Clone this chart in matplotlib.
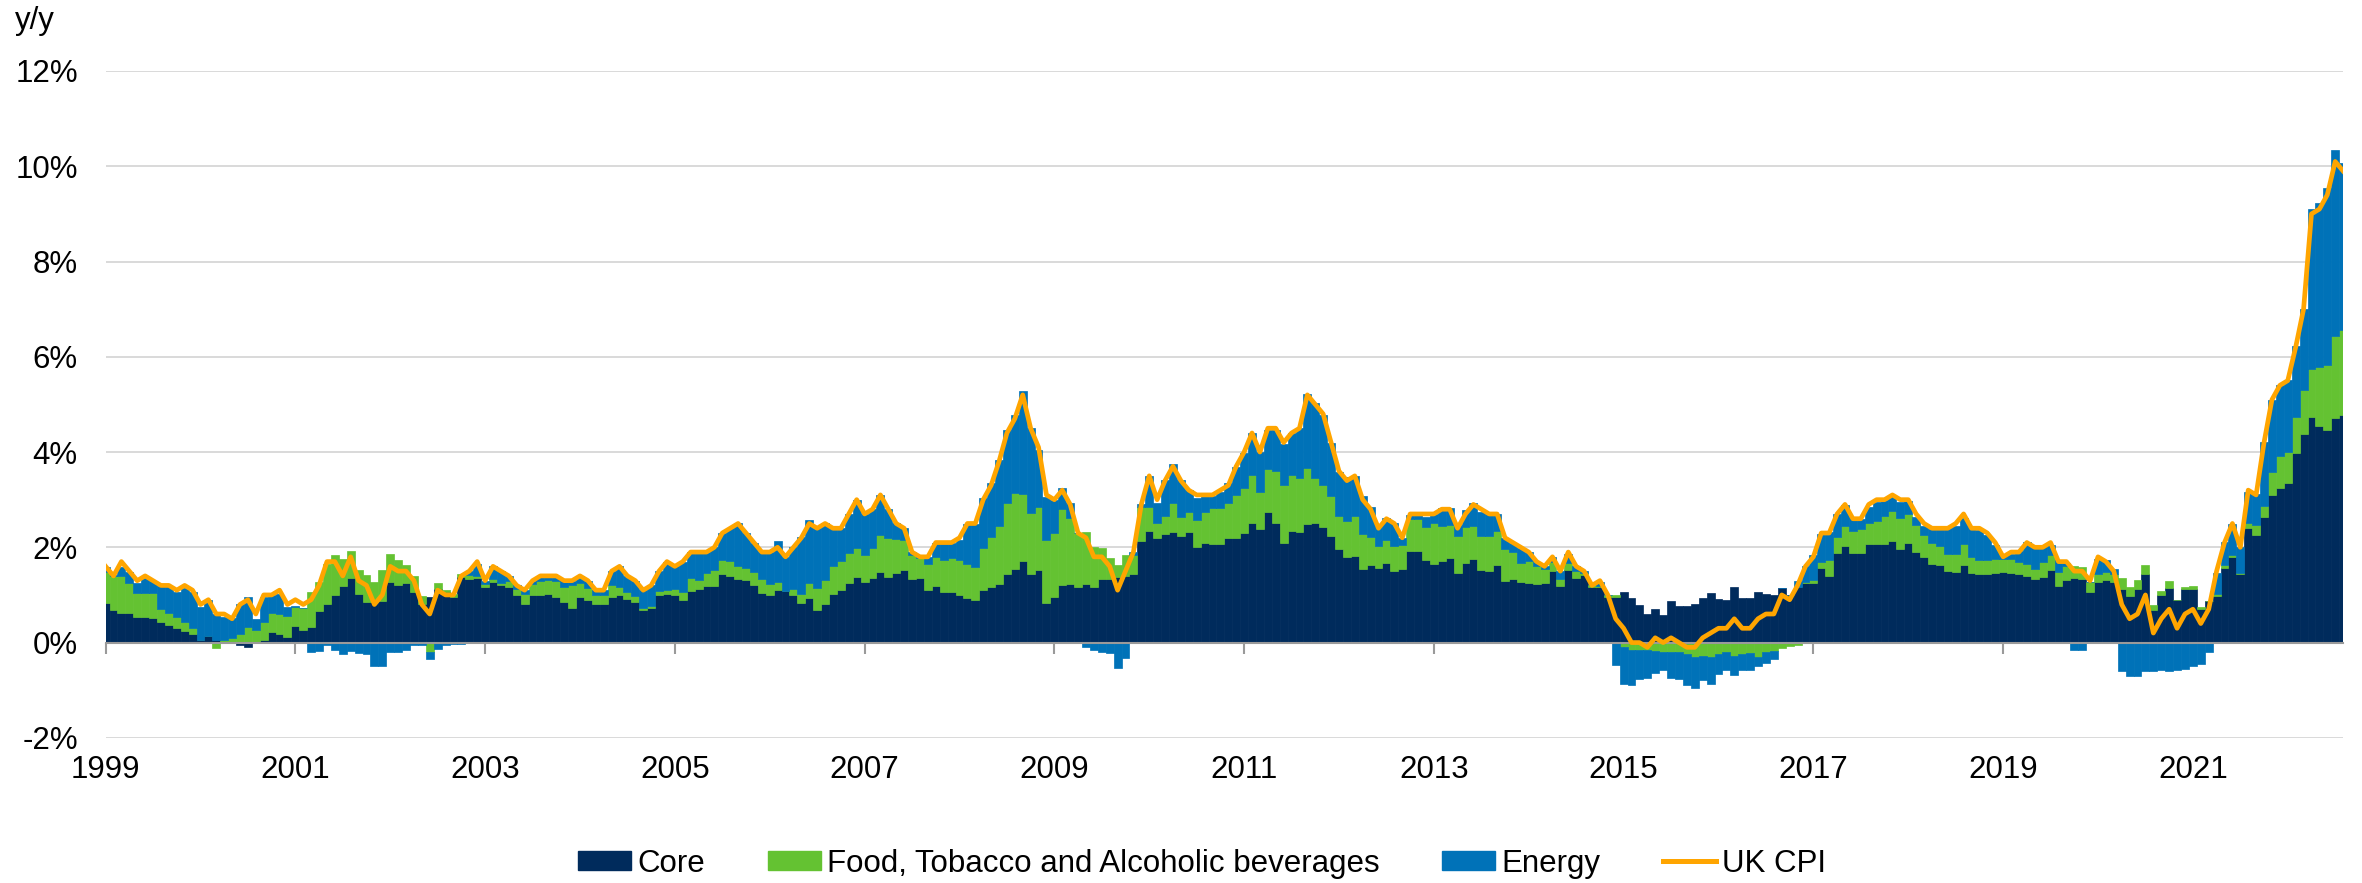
import numpy as np
import matplotlib
matplotlib.use("Agg")
import matplotlib.pyplot as plt
from matplotlib.lines import Line2D
from matplotlib.patches import Patch

plt.rcParams['font.family'] = ['Liberation Sans', 'DejaVu Sans']

# monthly, Jan 1999 .. Aug 2022, contributions to UK CPI y/y (pp), one row per year
core = [
    0.84, 0.68, 0.63, 0.63, 0.54, 0.54, 0.51, 0.44, 0.37, 0.30, 0.25, 0.19,
    0.05, 0.14, 0.05, 0.01, 0.01, -0.05, -0.09, 0.02, 0.06, 0.23, 0.17, 0.12,
    0.35, 0.27, 0.33, 0.67, 0.80, 0.99, 1.18, 1.35, 1.01, 0.86, 0.86, 0.88,
    1.27, 1.21, 1.26, 1.07, 0.82, 0.96, 1.13, 1.07, 0.96, 1.38, 1.33, 1.35,
    1.17, 1.28, 1.21, 1.17, 1.00, 0.82, 1.00, 1.00, 1.02, 0.95, 0.86, 0.72,
    0.96, 0.90, 0.80, 0.80, 0.95, 1.00, 0.92, 0.86, 0.68, 0.72, 1.00, 1.02,
    1.00, 0.90, 1.09, 1.12, 1.19, 1.19, 1.43, 1.40, 1.34, 1.31, 1.20, 1.05,
    0.99, 1.10, 1.08, 1.00, 0.84, 0.93, 0.68, 0.81, 1.03, 1.10, 1.25, 1.38,
    1.28, 1.35, 1.48, 1.38, 1.47, 1.52, 1.33, 1.35, 1.10, 1.18, 1.07, 1.07,
    1.00, 0.93, 0.89, 1.10, 1.16, 1.24, 1.44, 1.54, 1.71, 1.45, 1.52, 0.84,
    0.96, 1.21, 1.24, 1.16, 1.23, 1.17, 1.33, 1.33, 1.38, 1.40, 1.43, 2.13,
    2.34, 2.19, 2.27, 2.32, 2.24, 2.32, 2.01, 2.10, 2.07, 2.07, 2.19, 2.19,
    2.29, 2.52, 2.38, 2.75, 2.50, 2.08, 2.35, 2.33, 2.49, 2.50, 2.42, 2.24,
    1.96, 1.80, 1.82, 1.54, 1.62, 1.57, 1.68, 1.51, 1.54, 1.93, 1.93, 1.73,
    1.66, 1.71, 1.78, 1.47, 1.68, 1.75, 1.52, 1.50, 1.62, 1.29, 1.33, 1.28,
    1.26, 1.22, 1.25, 1.50, 1.19, 1.52, 1.35, 1.42, 1.16, 1.16, 0.96, 0.96,
    1.07, 0.93, 0.79, 0.60, 0.70, 0.57, 0.87, 0.77, 0.77, 0.82, 0.93, 1.05,
    0.91, 0.89, 1.17, 0.93, 0.93, 1.07, 1.02, 1.00, 1.14, 1.00, 1.17, 1.25,
    1.25, 1.56, 1.40, 1.89, 2.03, 1.89, 1.89, 2.07, 2.07, 2.07, 2.13, 1.96,
    2.08, 1.91, 1.80, 1.66, 1.63, 1.50, 1.49, 1.63, 1.47, 1.45, 1.45, 1.47,
    1.49, 1.47, 1.44, 1.40, 1.33, 1.38, 1.52, 1.19, 1.31, 1.35, 1.33, 1.07,
    1.27, 1.32, 1.27, 1.13, 0.97, 1.13, 1.44, 0.68, 1.00, 1.14, 0.89, 1.12,
    1.12, 0.71, 0.87, 0.97, 1.57, 1.80, 1.44, 2.41, 2.26, 2.64, 3.10, 3.25,
    3.36, 3.99, 4.37, 4.73, 4.54, 4.46, 4.71, 4.78,
]
food = [
    0.65, 0.71, 0.76, 0.62, 0.50, 0.50, 0.53, 0.26, 0.26, 0.23, 0.19, 0.11,
    0.00, 0.00, -0.12, 0.04, 0.08, 0.18, 0.33, 0.24, 0.38, 0.40, 0.43, 0.44,
    0.40, 0.45, 0.74, 0.61, 0.86, 0.85, 0.57, 0.57, 0.52, 0.56, 0.42, 0.65,
    0.58, 0.52, 0.36, 0.32, 0.15, -0.20, 0.12, 0.03, 0.07, 0.05, 0.08, 0.05,
    0.05, 0.05, 0.05, 0.12, 0.13, 0.20, 0.22, 0.30, 0.30, 0.35, 0.30, 0.48,
    0.30, 0.25, 0.20, 0.20, 0.25, 0.17, 0.15, 0.12, 0.05, 0.05, 0.08, 0.08,
    0.12, 0.17, 0.27, 0.19, 0.28, 0.33, 0.30, 0.32, 0.27, 0.26, 0.29, 0.28,
    0.24, 0.18, 0.01, 0.12, 0.19, 0.33, 0.46, 0.50, 0.58, 0.62, 0.64, 0.61,
    0.56, 0.63, 0.77, 0.82, 0.71, 0.63, 0.51, 0.42, 0.56, 0.62, 0.66, 0.70,
    0.73, 0.73, 0.70, 0.88, 1.06, 1.21, 1.50, 1.59, 1.41, 1.28, 1.32, 1.32,
    1.33, 1.59, 1.37, 1.13, 1.10, 0.83, 0.66, 0.45, 0.25, 0.43, 0.40, 0.72,
    0.51, 0.31, 0.39, 0.60, 0.40, 0.43, 0.56, 0.65, 0.75, 0.75, 0.75, 0.91,
    0.96, 0.99, 0.79, 0.89, 1.11, 1.23, 1.16, 1.13, 1.17, 0.96, 0.89, 0.84,
    0.70, 0.75, 0.84, 0.74, 0.60, 0.46, 0.47, 0.52, 0.51, 0.66, 0.66, 0.70,
    0.84, 0.74, 0.69, 0.77, 0.75, 0.70, 0.72, 0.74, 0.72, 0.67, 0.58, 0.40,
    0.46, 0.38, 0.30, 0.20, 0.15, 0.15, 0.15, 0.05, 0.04, 0.02, 0.03, 0.03,
    -0.10, -0.15, -0.15, -0.15, -0.18, -0.20, -0.20, -0.20, -0.25, -0.30, -0.28, -0.30,
    -0.25, -0.20, -0.28, -0.25, -0.22, -0.30, -0.20, -0.18, -0.12, -0.08, -0.05, 0.03,
    0.06, 0.14, 0.33, 0.33, 0.42, 0.46, 0.49, 0.43, 0.48, 0.59, 0.63, 0.65,
    0.62, 0.56, 0.46, 0.42, 0.40, 0.37, 0.37, 0.43, 0.32, 0.28, 0.28, 0.28,
    0.26, 0.28, 0.26, 0.25, 0.21, 0.32, 0.32, 0.30, 0.30, 0.26, 0.26, 0.21,
    0.17, 0.16, 0.17, 0.22, 0.20, 0.19, 0.19, 0.11, 0.08, 0.15, 0.01, 0.05,
    0.07, 0.03, 0.00, 0.05, 0.05, 0.04, 0.02, 0.11, 0.20, 0.23, 0.49, 0.67,
    0.65, 0.74, 0.93, 1.01, 1.24, 1.36, 1.73, 1.79,
]
energy = [
    0.10, 0.03, 0.20, 0.24, 0.21, 0.31, 0.25, 0.48, 0.55, 0.54, 0.70, 0.77,
    0.70, 0.75, 0.56, 0.49, 0.42, 0.64, 0.63, 0.24, 0.52, 0.37, 0.43, 0.19,
    0.02, 0.00, -0.20, -0.17, -0.05, -0.15, -0.23, -0.18, -0.22, -0.25, -0.50, -0.50,
    -0.20, -0.20, -0.15, -0.05, -0.05, -0.15, -0.14, -0.05, -0.02, -0.02, 0.10, 0.25,
    0.08, 0.27, 0.24, 0.11, 0.07, 0.08, 0.08, 0.10, 0.08, 0.10, 0.14, 0.10,
    0.14, 0.15, 0.10, 0.10, 0.30, 0.43, 0.33, 0.32, 0.37, 0.43, 0.42, 0.60,
    0.48, 0.63, 0.54, 0.59, 0.43, 0.48, 0.57, 0.68, 0.89, 0.73, 0.61, 0.57,
    0.67, 0.85, 0.71, 0.88, 1.19, 1.32, 1.26, 1.19, 0.80, 0.68, 0.81, 1.01,
    0.86, 0.82, 0.85, 0.60, 0.32, 0.25, 0.06, 0.03, 0.14, 0.30, 0.37, 0.31,
    0.42, 0.83, 0.90, 1.05, 1.12, 1.39, 1.52, 1.65, 2.17, 1.77, 1.20, 0.90,
    0.70, 0.44, 0.31, 0.02, -0.09, -0.16, -0.20, -0.22, -0.53, -0.33, 0.07, 0.05,
    0.65, 0.44, 0.75, 0.82, 0.77, 0.45, 0.46, 0.37, 0.26, 0.35, 0.42, 0.59,
    0.72, 0.88, 0.83, 0.83, 0.86, 0.86, 0.89, 1.04, 1.56, 1.56, 1.47, 1.10,
    0.93, 0.93, 0.84, 0.80, 0.63, 0.44, 0.46, 0.47, 0.14, 0.09, 0.11, 0.20,
    0.20, 0.37, 0.35, 0.23, 0.35, 0.47, 0.51, 0.47, 0.36, 0.23, 0.17, 0.30,
    0.18, 0.10, 0.05, 0.10, 0.16, 0.20, 0.10, 0.03, 0.00, 0.10, 0.00, -0.47,
    -0.78, -0.75, -0.62, -0.59, -0.45, -0.38, -0.54, -0.57, -0.65, -0.65, -0.51, -0.58,
    -0.42, -0.38, -0.40, -0.33, -0.36, -0.20, -0.22, -0.17, 0.00, 0.00, 0.12, 0.32,
    0.53, 0.58, 0.60, 0.48, 0.44, 0.28, 0.22, 0.35, 0.41, 0.33, 0.32, 0.35,
    0.27, 0.17, 0.19, 0.30, 0.37, 0.55, 0.59, 0.55, 0.63, 0.63, 0.53, 0.30,
    0.09, 0.12, 0.22, 0.47, 0.49, 0.33, 0.21, 0.24, 0.07, -0.15, -0.15, 0.00,
    0.32, 0.25, 0.10, -0.59, -0.70, -0.70, -0.60, -0.60, -0.57, -0.60, -0.58, -0.55,
    -0.50, -0.45, -0.20, 0.45, 0.50, 0.65, 0.55, 0.65, 0.65, 1.35, 1.50, 1.48,
    1.50, 1.50, 1.70, 3.36, 3.44, 3.72, 3.90, 3.50,
]
cpi = [
    1.6, 1.4, 1.7, 1.5, 1.3, 1.4, 1.3, 1.2, 1.2, 1.1, 1.2, 1.1,
    0.8, 0.9, 0.6, 0.6, 0.5, 0.8, 0.9, 0.6, 1.0, 1.0, 1.1, 0.8,
    0.9, 0.8, 0.9, 1.2, 1.7, 1.7, 1.4, 1.8, 1.3, 1.2, 0.8, 1.0,
    1.6, 1.5, 1.5, 1.3, 0.8, 0.6, 1.1, 1.0, 1.0, 1.4, 1.5, 1.7,
    1.3, 1.6, 1.5, 1.4, 1.2, 1.1, 1.3, 1.4, 1.4, 1.4, 1.3, 1.3,
    1.4, 1.3, 1.1, 1.1, 1.5, 1.6, 1.4, 1.3, 1.1, 1.2, 1.5, 1.7,
    1.6, 1.7, 1.9, 1.9, 1.9, 2.0, 2.3, 2.4, 2.5, 2.3, 2.1, 1.9,
    1.9, 2.0, 1.8, 2.0, 2.2, 2.5, 2.4, 2.5, 2.4, 2.4, 2.7, 3.0,
    2.7, 2.8, 3.1, 2.8, 2.5, 2.4, 1.9, 1.8, 1.8, 2.1, 2.1, 2.1,
    2.2, 2.5, 2.5, 3.0, 3.3, 3.8, 4.4, 4.7, 5.2, 4.5, 4.1, 3.1,
    3.0, 3.2, 2.9, 2.3, 2.2, 1.8, 1.8, 1.6, 1.1, 1.5, 1.9, 2.9,
    3.5, 3.0, 3.4, 3.7, 3.4, 3.2, 3.1, 3.1, 3.1, 3.2, 3.3, 3.7,
    4.0, 4.4, 4.0, 4.5, 4.5, 4.2, 4.4, 4.5, 5.2, 5.0, 4.8, 4.2,
    3.6, 3.4, 3.5, 3.0, 2.8, 2.4, 2.6, 2.5, 2.2, 2.7, 2.7, 2.7,
    2.7, 2.8, 2.8, 2.4, 2.7, 2.9, 2.8, 2.7, 2.7, 2.2, 2.1, 2.0,
    1.9, 1.7, 1.6, 1.8, 1.5, 1.9, 1.6, 1.5, 1.2, 1.3, 1.0, 0.5,
    0.3, 0.0, 0.0, -0.1, 0.1, 0.0, 0.1, 0.0, -0.1, -0.1, 0.1, 0.2,
    0.3, 0.3, 0.5, 0.3, 0.3, 0.5, 0.6, 0.6, 1.0, 0.9, 1.2, 1.6,
    1.8, 2.3, 2.3, 2.7, 2.9, 2.6, 2.6, 2.9, 3.0, 3.0, 3.1, 3.0,
    3.0, 2.7, 2.5, 2.4, 2.4, 2.4, 2.5, 2.7, 2.4, 2.4, 2.3, 2.1,
    1.8, 1.9, 1.9, 2.1, 2.0, 2.0, 2.1, 1.7, 1.7, 1.5, 1.5, 1.3,
    1.8, 1.7, 1.5, 0.8, 0.5, 0.6, 1.0, 0.2, 0.5, 0.7, 0.3, 0.6,
    0.7, 0.4, 0.7, 1.5, 2.1, 2.5, 2.0, 3.2, 3.1, 4.2, 5.1, 5.4,
    5.5, 6.2, 7.0, 9.0, 9.1, 9.4, 10.1, 9.9,
]
year_labels = ['1999', '2001', '2003', '2005', '2007', '2009',
               '2011', '2013', '2015', '2017', '2019', '2021']

NAVY = '#002B5C'
GREEN = '#64C232'
BLUE = '#0072B8'
ORANGE = '#FFA500'
FS = 22.5

fig = plt.figure(figsize=(23.62, 8.83), dpi=100)
ax = fig.add_axes([0.0447, 0.1644, 0.9473, 0.7552])

x = np.arange(len(cpi))
pos_base = np.zeros(len(x))
neg_base = np.zeros(len(x))
series = [(core, NAVY), (food, GREEN), (energy, BLUE)]
for vals, col in series:
    v = np.array(vals, dtype=float)
    bottom = np.where(v >= 0, pos_base, neg_base)
    ax.bar(x, v, width=1.0, bottom=bottom, color=col, edgecolor=col,
           linewidth=0.5, zorder=2)
    pos_base += np.clip(v, 0, None)
    neg_base += np.clip(v, None, 0)

ax.plot(x, cpi, color=ORANGE, lw=3.4, zorder=4, solid_joinstyle='round')

ax.set_xlim(0, len(cpi) - 1)
ax.set_ylim(-2, 12)
ax.set_yticks(range(-2, 13, 2))
ax.set_yticklabels([f"{v}%" for v in range(-2, 13, 2)])
ax.yaxis.grid(True, color='#D9D9D9', lw=1.4)
ax.set_axisbelow(True)

for s in ['top', 'right', 'left']:
    ax.spines[s].set_visible(False)
ax.spines['bottom'].set_position(('data', 0))
ax.spines['bottom'].set_color('#9A9A9A')
ax.spines['bottom'].set_linewidth(1.5)
ax.spines['bottom'].set_zorder(3)

ticks = list(range(0, len(cpi), 24))
ax.set_xticks(ticks)
ax.tick_params(axis='x', direction='out', length=8, width=1.5,
               color='#9A9A9A', labelbottom=False)
ax.tick_params(axis='y', length=0, pad=20, labelsize=FS)

# year labels sit at the bottom of the plot, not on the zero line
sec = ax.secondary_xaxis('bottom')
sec.set_xticks(ticks)
sec.set_xticklabels(year_labels)
sec.spines['bottom'].set_visible(False)
sec.tick_params(length=0, pad=12, labelsize=FS)

fig.text(15 / 2362, 1 - 29 / 883, 'y/y', fontsize=FS, va='baseline')

handles = [Patch(color=NAVY), Patch(color=GREEN), Patch(color=BLUE),
           Line2D([], [], color=ORANGE, lw=3.6)]
labels = ['Core', 'Food, Tobacco and Alcoholic beverages', 'Energy', 'UK CPI']
fig.legend(handles, labels, loc='center', bbox_to_anchor=(0.509, 0.022),
           ncol=4, frameon=False, fontsize=FS, handlelength=1.7,
           handleheight=0.55, handletextpad=0.2, columnspacing=2.0)

fig.savefig('out.png', dpi=100)
